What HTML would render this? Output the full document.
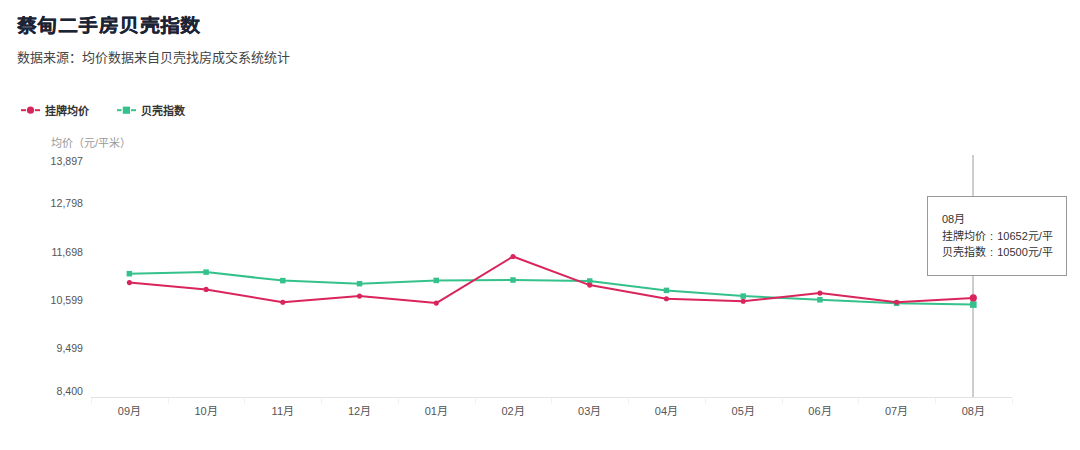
<!DOCTYPE html>
<html lang="zh-CN"><head><meta charset="utf-8">
<style>
html,body{margin:0;padding:0;background:#fff;}
body{width:1080px;height:450px;position:relative;overflow:hidden;font-family:"Liberation Sans",sans-serif;}
.t{position:absolute;left:17px;top:12.4px;transform:scaleY(0.93);transform-origin:0 0;font-size:20px;letter-spacing:0.42px;font-weight:bold;-webkit-text-stroke:0.15px #1b2335;color:#1b2335;line-height:28px;white-space:nowrap;}
.s{position:absolute;left:17px;top:49px;font-size:13px;color:#444;line-height:18px;white-space:nowrap;}
.lg{position:absolute;top:102.5px;font-size:11px;font-weight:bold;color:#333;line-height:16px;white-space:nowrap;}
.yn{position:absolute;left:51px;top:136.2px;font-size:11px;color:#999;line-height:14px;white-space:nowrap;}
.yl{position:absolute;left:0;width:83px;text-align:right;font-size:10.6px;color:#555;line-height:14px;}
.xl{position:absolute;top:403.5px;width:60px;text-align:center;font-size:11px;color:#555;line-height:14px;}
svg{position:absolute;left:0;top:0;}
.tip{position:absolute;left:927px;top:196px;width:138px;height:78px;border:1px solid #999;background:#fff;font-size:11px;color:#333;line-height:16px;box-sizing:content-box;}
.tip div{position:absolute;left:14px;white-space:nowrap;}
</style></head><body>
<div class="t">蔡甸二手房贝壳指数</div>
<div class="s">数据来源：均价数据来自贝壳找房成交系统统计</div>
<svg width="200" height="130" style="position:absolute;left:0;top:0">
<line x1="21" y1="110.2" x2="26" y2="110.2" stroke="#d9255b" stroke-width="2"/>
<line x1="35" y1="110.2" x2="40" y2="110.2" stroke="#d9255b" stroke-width="2"/>
<circle cx="30.5" cy="110.2" r="3.6" fill="#d9255b"/>
<line x1="117" y1="110.2" x2="121.5" y2="110.2" stroke="#35c18b" stroke-width="2"/>
<line x1="131" y1="110.2" x2="136" y2="110.2" stroke="#35c18b" stroke-width="2"/>
<rect x="122.8" y="106.6" width="7.2" height="7.2" fill="#35c18b"/>
</svg>
<div class="lg" style="left:45px">挂牌均价</div>
<div class="lg" style="left:141px">贝壳指数</div>
<div class="yn">均价（元/平米）</div>
<div class="yl" style="top:154.3px">13,897</div>
<div class="yl" style="top:196.3px">12,798</div>
<div class="yl" style="top:244.9px">11,698</div>
<div class="yl" style="top:293.4px">10,599</div>
<div class="yl" style="top:341.4px">9,499</div>
<div class="yl" style="top:383.6px">8,400</div>
<div class="xl" style="left:99.4px">09月</div>
<div class="xl" style="left:176.1px">10月</div>
<div class="xl" style="left:252.8px">11月</div>
<div class="xl" style="left:329.5px">12月</div>
<div class="xl" style="left:406.3px">01月</div>
<div class="xl" style="left:483.0px">02月</div>
<div class="xl" style="left:559.7px">03月</div>
<div class="xl" style="left:636.4px">04月</div>
<div class="xl" style="left:713.2px">05月</div>
<div class="xl" style="left:789.9px">06月</div>
<div class="xl" style="left:866.6px">07月</div>
<div class="xl" style="left:943.3px">08月</div>
<svg width="1080" height="450">
<line x1="91.0" y1="397.5" x2="1011.7" y2="397.5" stroke="#e2e2e2" stroke-width="1"/>
<line x1="91.5" y1="398" x2="91.5" y2="404" stroke="#f1f1f1" stroke-width="1"/>
<line x1="168.5" y1="398" x2="168.5" y2="404" stroke="#f1f1f1" stroke-width="1"/>
<line x1="244.5" y1="398" x2="244.5" y2="404" stroke="#f1f1f1" stroke-width="1"/>
<line x1="321.5" y1="398" x2="321.5" y2="404" stroke="#f1f1f1" stroke-width="1"/>
<line x1="398.5" y1="398" x2="398.5" y2="404" stroke="#f1f1f1" stroke-width="1"/>
<line x1="475.5" y1="398" x2="475.5" y2="404" stroke="#f1f1f1" stroke-width="1"/>
<line x1="551.5" y1="398" x2="551.5" y2="404" stroke="#f1f1f1" stroke-width="1"/>
<line x1="628.5" y1="398" x2="628.5" y2="404" stroke="#f1f1f1" stroke-width="1"/>
<line x1="705.5" y1="398" x2="705.5" y2="404" stroke="#f1f1f1" stroke-width="1"/>
<line x1="782.5" y1="398" x2="782.5" y2="404" stroke="#f1f1f1" stroke-width="1"/>
<line x1="858.5" y1="398" x2="858.5" y2="404" stroke="#f1f1f1" stroke-width="1"/>
<line x1="935.5" y1="398" x2="935.5" y2="404" stroke="#f1f1f1" stroke-width="1"/>
<line x1="1012.5" y1="398" x2="1012.5" y2="404" stroke="#f1f1f1" stroke-width="1"/>
<line x1="973" y1="155" x2="973" y2="397" stroke="#cdcdcd" stroke-width="2"/>
<polyline points="129.4,273.7 206.1,272.1 282.8,280.6 359.5,283.7 436.3,280.4 513.0,280.0 589.7,281.0 666.4,290.4 743.2,296.1 819.9,299.8 896.6,303.3 973.3,304.6" fill="none" stroke="#35c18b" stroke-width="2" stroke-linejoin="round"/>
<rect x="126.61" y="270.95" width="5.5" height="5.5" fill="#35c18b"/>
<rect x="203.34" y="269.35" width="5.5" height="5.5" fill="#35c18b"/>
<rect x="280.06" y="277.85" width="5.5" height="5.5" fill="#35c18b"/>
<rect x="356.79" y="280.95" width="5.5" height="5.5" fill="#35c18b"/>
<rect x="433.51" y="277.65" width="5.5" height="5.5" fill="#35c18b"/>
<rect x="510.24" y="277.25" width="5.5" height="5.5" fill="#35c18b"/>
<rect x="586.96" y="278.25" width="5.5" height="5.5" fill="#35c18b"/>
<rect x="663.69" y="287.65" width="5.5" height="5.5" fill="#35c18b"/>
<rect x="740.41" y="293.35" width="5.5" height="5.5" fill="#35c18b"/>
<rect x="817.14" y="297.05" width="5.5" height="5.5" fill="#35c18b"/>
<rect x="893.86" y="300.55" width="5.5" height="5.5" fill="#35c18b"/>
<rect x="970.04" y="301.30" width="6.6" height="6.6" fill="#35c18b"/>
<polyline points="129.4,282.6 206.1,289.4 282.8,302.3 359.5,296.1 436.3,303.1 513.0,256.5 589.7,285.1 666.4,298.7 743.2,301.3 819.9,293.1 896.6,302.2 973.3,297.9" fill="none" stroke="#d9255b" stroke-width="2" stroke-linejoin="round"/>
<circle cx="129.4" cy="282.6" r="2.55" fill="#d9255b"/>
<circle cx="206.1" cy="289.4" r="2.55" fill="#d9255b"/>
<circle cx="282.8" cy="302.3" r="2.55" fill="#d9255b"/>
<circle cx="359.5" cy="296.1" r="2.55" fill="#d9255b"/>
<circle cx="436.3" cy="303.1" r="2.55" fill="#d9255b"/>
<circle cx="513.0" cy="256.5" r="2.55" fill="#d9255b"/>
<circle cx="589.7" cy="285.1" r="2.55" fill="#d9255b"/>
<circle cx="666.4" cy="298.7" r="2.55" fill="#d9255b"/>
<circle cx="743.2" cy="301.3" r="2.55" fill="#d9255b"/>
<circle cx="819.9" cy="293.1" r="2.55" fill="#d9255b"/>
<circle cx="896.6" cy="302.2" r="2.55" fill="#d9255b"/>
<circle cx="973.3" cy="297.9" r="3.6" fill="#d9255b"/>
</svg>
<div class="tip">
<div style="top:14px">08月</div>
<div style="top:31px">挂牌均价 <span style="padding:0 1px">:</span> 10652元/平</div>
<div style="top:47px">贝壳指数 <span style="padding:0 1px">:</span> 10500元/平</div>
</div>
</body></html>
